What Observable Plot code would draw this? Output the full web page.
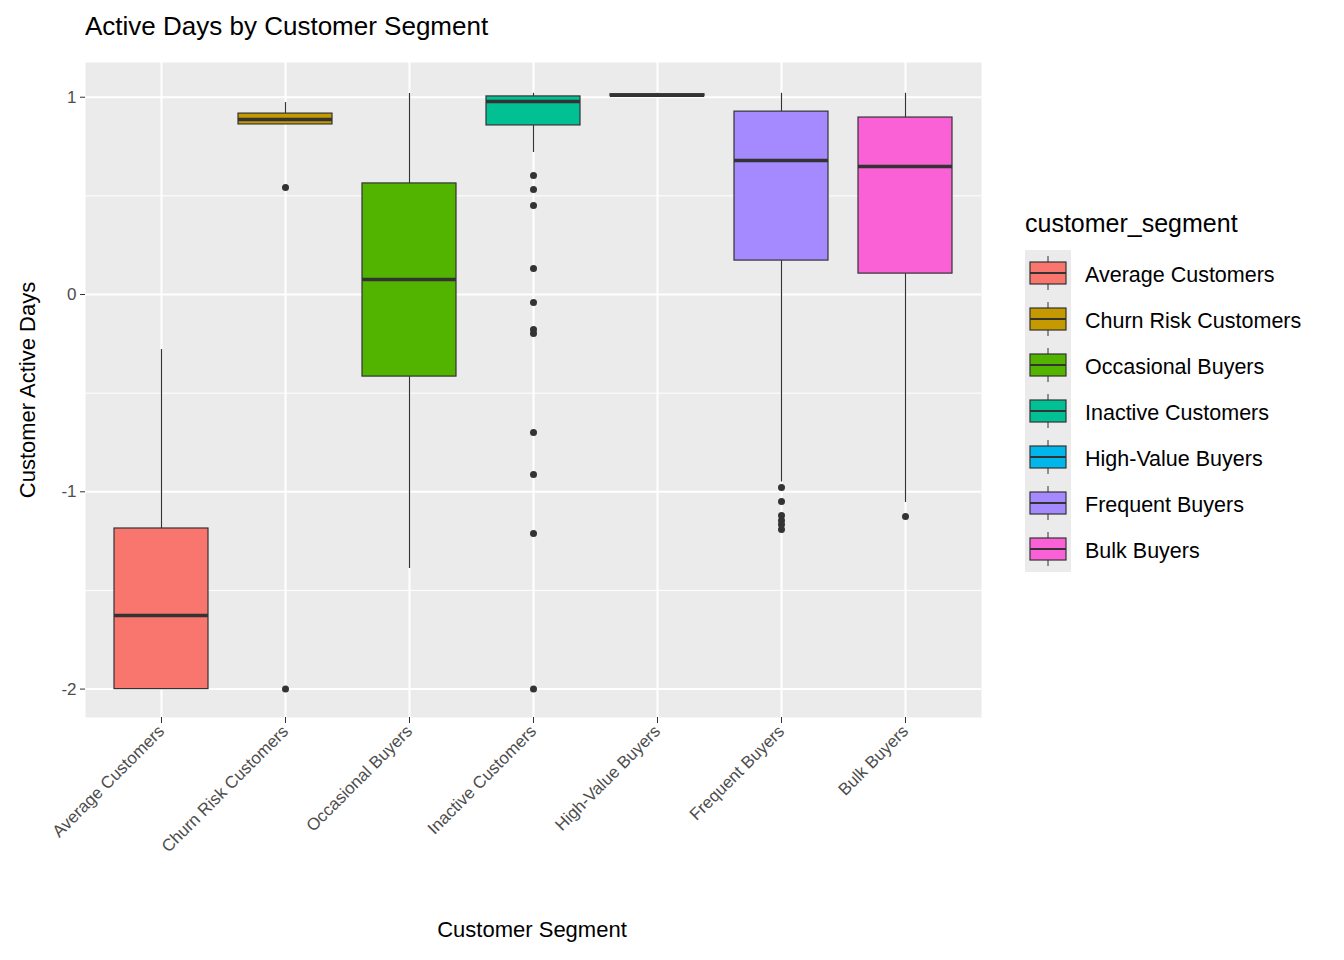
<!DOCTYPE html>
<html><head><meta charset="utf-8">
<script src="https://cdn.jsdelivr.net/npm/d3@7"></script>
<script src="https://cdn.jsdelivr.net/npm/@observablehq/plot@0.6"></script>
<style>
body{margin:0;background:#fff;font-family:Arial,"Liberation Sans",sans-serif;}
#wrap{position:relative;width:1344px;height:960px;}
.abs{position:absolute;}
#chart svg g[aria-label="x-axis tick label"] text,
#chart svg g[aria-label="y-axis tick label"] text{font-size:17px;}
</style></head>
<body><div id="wrap">
<div class="abs" style="left:85px;top:11px;font-size:26px;color:#000">Active Days by Customer Segment</div>
<div class="abs" style="left:28px;top:390px;transform:translate(-50%,-50%) rotate(-90deg);font-size:22px;white-space:nowrap">Customer Active Days</div>
<div class="abs" style="left:532px;top:930px;transform:translate(-50%,-50%);font-size:22px;white-space:nowrap">Customer Segment</div>
<div id="chart" class="abs" style="left:0;top:0"></div>
<div id="legend" class="abs" style="left:1025px;top:208px"></div>
</div>
<script>
const segments = ["Average Customers","Churn Risk Customers","Occasional Buyers","Inactive Customers","High-Value Buyers","Frequent Buyers","Bulk Buyers"];
const colors = ["#F8766D","#C49A00","#53B400","#00C094","#00B6EB","#A58AFF","#FB61D7"];
const lower  = [-2.0, 0.862, -1.389, 0.72, 1.005, -0.95, -1.054];
const q1     = [-2.0, 0.862, -0.416, 0.857, 1.005, 0.172, 0.106];
const median = [-1.627, 0.887, 0.076, 0.978, 1.01, 0.679, 0.649];
const q3     = [-1.186, 0.917, 0.563, 1.004, 1.015, 0.927, 0.897];
const upper  = [-0.279, 0.973, 1.019, 1.02, 1.02, 1.02, 1.02];
const outlierSeg = ["Churn Risk Customers","Churn Risk Customers",
  "Inactive Customers","Inactive Customers","Inactive Customers","Inactive Customers","Inactive Customers","Inactive Customers","Inactive Customers","Inactive Customers","Inactive Customers","Inactive Customers","Inactive Customers",
  "Frequent Buyers","Frequent Buyers","Frequent Buyers","Frequent Buyers","Frequent Buyers","Frequent Buyers",
  "Bulk Buyers"];
const outlierVal = [0.543,-2.0,
  0.603,0.532,0.451,0.132,-0.041,-0.177,-0.198,-0.699,-0.912,-1.211,-2.0,
  -0.978,-1.049,-1.12,-1.145,-1.166,-1.191,
  -1.125];

const boxes = segments.map((s,i)=>({seg:s, lo:lower[i], q1:q1[i], med:median[i], q3:q3[i], hi:upper[i]}));
const outliers = outlierVal.map((v,i)=>({seg:outlierSeg[i], v}));

const chart = Plot.plot({
  width: 990, height: 960,
  marginLeft: 85, marginRight: 9, marginTop: 62, marginBottom: 243,
  style: {fontFamily: "Arial, 'Liberation Sans', sans-serif", fontSize: "17px", color: "#4D4D4D"},
  x: {type: "band", domain: segments, paddingInner: 0.245, paddingOuter: 0.2225, label: null},
  y: {domain: [-2.144, 1.176], label: null},
  color: {domain: segments, range: colors},
  marks: [
    Plot.frame({fill: "#EBEBEB", stroke: null}),
    Plot.ruleY([-1.5,-0.5,0.5], {stroke: "#fff", strokeWidth: 1}),
    Plot.ruleY([-2,-1,0,1], {stroke: "#fff", strokeWidth: 2}),
    Plot.ruleX(segments, {x: d => d, stroke: "#fff", strokeWidth: 2}),
    Plot.ruleX(boxes, {x: "seg", y1: "lo", y2: "q1", stroke: "#333", strokeWidth: 1.2}),
    Plot.ruleX(boxes, {x: "seg", y1: "q3", y2: "hi", stroke: "#333", strokeWidth: 1.2}),
    Plot.barY(boxes, {x: "seg", y1: "q1", y2: "q3", fill: "seg", stroke: "#333", strokeWidth: 1.2}),
    Plot.tickY(boxes, {x: "seg", y: "med", stroke: "#333", strokeWidth: 3.5}),
    Plot.dot(outliers, {x: "seg", y: "v", r: 3.5, fill: "#333", stroke: null}),
    Plot.axisX({tickRotate: -45, tickSize: 6, tickPadding: 5, stroke: "#333", fill: "#4D4D4D", label: null}),
    Plot.axisY({ticks: [-2,-1,0,1], tickFormat: d => String(d), tickSize: 5, stroke: "#333", fill: "#4D4D4D", label: null})
  ]
});
document.getElementById("chart").append(chart);

// legend
const lg = d3.select("#legend").append("svg").attr("width", 319).attr("height", 370)
  .style("font-family", "Arial, 'Liberation Sans', sans-serif");
lg.append("text").attr("x", 0).attr("y", 24).attr("font-size", 25).attr("fill", "#000").text("customer_segment");
lg.append("rect").attr("x", 0).attr("y", 42).attr("width", 46).attr("height", 322).attr("fill", "#EBEBEB");
segments.forEach((s,i)=>{
  const y = 44 + i*46;
  const g = lg.append("g").attr("transform", `translate(0,${y})`);
  g.append("line").attr("x1",23).attr("x2",23).attr("y1",4).attr("y2",38).attr("stroke","#333");
  g.append("rect").attr("x",5).attr("y",10).attr("width",36).attr("height",22).attr("fill",colors[i]).attr("stroke","#333").attr("stroke-width",1.2);
  g.append("line").attr("x1",5).attr("x2",41).attr("y1",21).attr("y2",21).attr("stroke","#333").attr("stroke-width",2);
  g.append("text").attr("x",60).attr("y",30).attr("font-size",21.5).attr("fill","#000").text(s);
});
</script>
</body></html>
